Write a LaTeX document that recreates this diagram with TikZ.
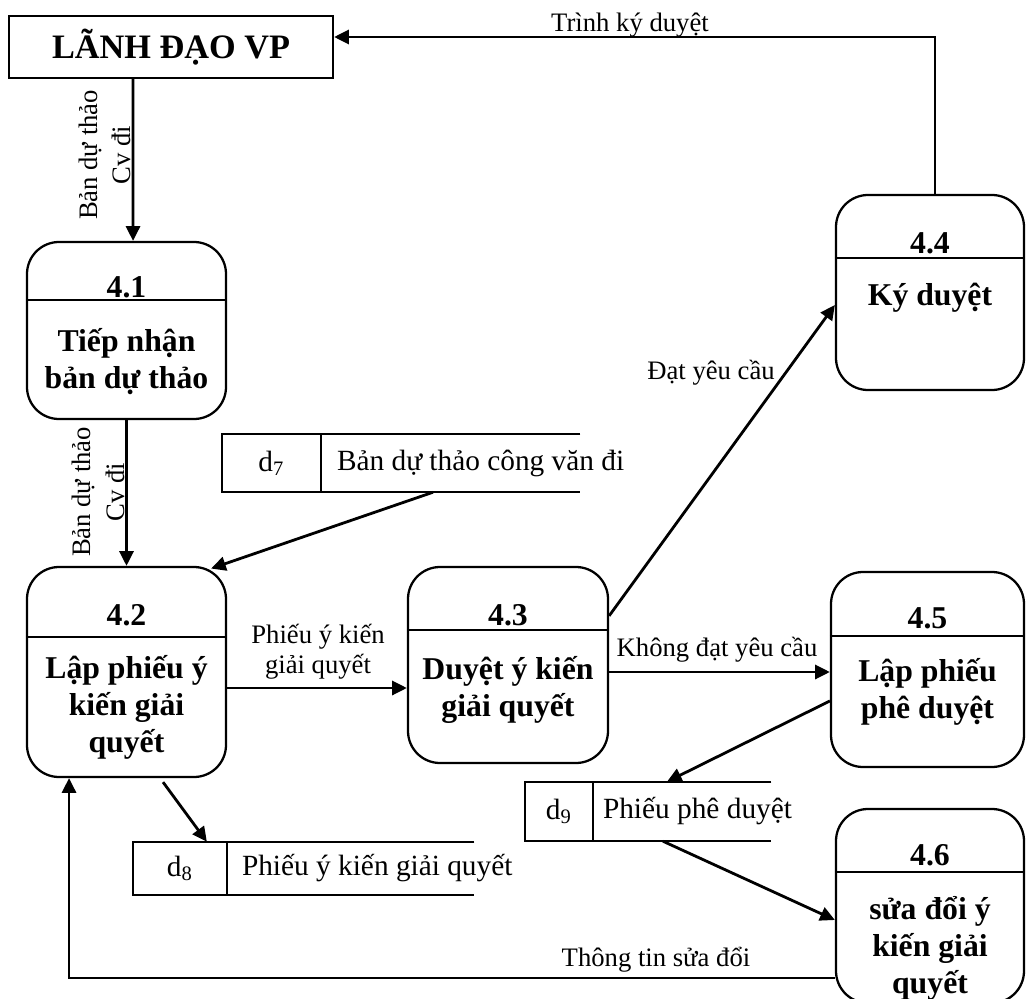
\documentclass[tikz,border=0pt]{standalone}
\usepackage{fontspec}
\setmainfont{Liberation Serif}
\usetikzlibrary{arrows.meta,calc}

\begin{document}
\begin{tikzpicture}[x=0.75pt,y=-0.75pt,
  proc/.style={draw, line width=1.7pt, rounded corners=24pt, inner sep=0pt},
  entity/.style={draw, line width=1.7pt, inner sep=0pt},
  storebox/.style={inner sep=0pt},
  storeline/.style={line width=1.7pt},
  divider/.style={line width=1.7pt},
  procnum/.style={font=\fontsize{23.8}{27.75}\selectfont\bfseries, inner sep=0pt},
  proctxt/.style={font=\fontsize{23.8}{27.75}\selectfont\bfseries, align=center, inner sep=0pt},
  storetxt/.style={font=\fontsize{22}{26}\selectfont, inner sep=0pt},
  flowlbl/.style={font=\fontsize{20}{22.5}\selectfont, align=center, inner sep=0pt},
  vlbl/.style={font=\fontsize{20}{25}\selectfont, align=center, inner sep=0pt, rotate=90},
  arr/.style={line width=2.1pt, -{Triangle[length=11pt,width=10.5pt]}},
]
\useasboundingbox (0,0) rectangle (1026,999);
\clip (0,0) rectangle (1026,999);

% external entity
\node[entity, minimum width=243pt, minimum height=46.5pt,
      font=\fontsize{25.7}{30}\selectfont\bfseries] (lead) at (171,47) {LÃNH ĐẠO VP};

% processes
\node[proc, minimum width=149.25pt, minimum height=132.75pt] (p41) at (126.5,330.5) {};
\node[proc, minimum width=149.25pt, minimum height=157.5pt]  (p42) at (126.5,672) {};
\node[proc, minimum width=150pt,    minimum height=147pt]    (p43) at (508,665) {};
\node[proc, minimum width=141pt,    minimum height=146.25pt] (p44) at (930,292.5) {};
\node[proc, minimum width=144.75pt, minimum height=146.25pt] (p45) at (927.5,669.5) {};
\node[proc, minimum width=141pt,    minimum height=145.5pt]  (p46) at (930,906) {};

% header dividers
\draw[divider] ([yshift=-44.25pt]p41.north west) -- ([yshift=-44.25pt]p41.north east);
\draw[divider] ([yshift=-53.25pt]p42.north west) -- ([yshift=-53.25pt]p42.north east);
\draw[divider] ([yshift=-48pt]p43.north west) -- ([yshift=-48pt]p43.north east);
\draw[divider] ([yshift=-48pt]p44.north west) -- ([yshift=-48pt]p44.north east);
\draw[divider] ([yshift=-48.75pt]p45.north west) -- ([yshift=-48.75pt]p45.north east);
\draw[divider] ([yshift=-48pt]p46.north west) -- ([yshift=-48pt]p46.north east);

% process numbers and names
\node[procnum] (n41) at (126.5,287) {4.1};
\node[proctxt] (t41) at (126.5,362) {Tiếp nhận\\bản dự thảo};
\node[procnum] (n42) at (126.5,615) {4.2};
\node[proctxt] (t42) at (126.5,707) {Lập phiếu ý\\kiến giải\\quyết};
\node[procnum] (n43) at (508,615) {4.3};
\node[proctxt] (t43) at (508,690) {Duyệt ý kiến\\giải quyết};
\node[procnum] (n44) at (930,243) {4.4};
\node[proctxt] (t44) at (930,298) {Ký duyệt};
\node[procnum] (n45) at (927.5,618) {4.5};
\node[proctxt] (t45) at (927.5,692) {Lập phiếu\\phê duyệt};
\node[procnum] (n46) at (930,855) {4.6};
\node[proctxt] (t46) at (930,948) {sửa đổi ý\\kiến giải\\quyết};

% data stores
\node[storebox, minimum width=268.5pt, minimum height=43.5pt]  (d7) at (401,463) {};
\node[storebox, minimum width=255.75pt, minimum height=39.75pt] (d8) at (303.5,868.5) {};
\node[storebox, minimum width=184.5pt, minimum height=44.25pt]  (d9) at (648,811.5) {};
\foreach \s/\dx in {d7/74.25pt, d8/70.5pt, d9/51pt}{
  \draw[storeline] (\s.north east) -- (\s.north west) -- (\s.south west) -- (\s.south east);
  \draw[storeline] ([xshift=\dx]\s.north west) -- ([xshift=\dx]\s.south west);
}
\node[storetxt] (d7id) at ([xshift=37.1pt]d7.west) {d\textsubscript{7}};
\node[storetxt, anchor=west] (d7txt) at ([xshift=86.25pt]d7.west) {Bản dự thảo công văn đi};
\node[storetxt] (d8id) at ([xshift=35.25pt]d8.west) {d\textsubscript{8}};
\node[storetxt, anchor=west] (d8txt) at ([xshift=81.75pt]d8.west) {Phiếu ý kiến giải quyết};
\node[storetxt] (d9id) at ([xshift=25.5pt]d9.west) {d\textsubscript{9}};
\node[storetxt, anchor=west] (d9txt) at ([xshift=58.5pt]d9.west) {Phiếu phê duyệt};

% data flows
\draw[arr] ([xshift=-28.5pt]lead.south) -- ([xshift=4.9pt]p41.north);
\node[vlbl] (l1) at (105,155) {Bản dự thảo\\Cv đi};

\draw[arr] (p41.south) -- (p42.north);
\node[vlbl] (l2) at (98.5,492) {Bản dự thảo\\Cv đi};

\draw[arr] ($(d7.south west)!0.589!(d7.south east)$) -- ([xshift=-12pt,yshift=-2pt]p42.north east);

\draw[arr] ([yshift=-12pt]p42.east) -- ([yshift=-12pt]p42.east -| p43.west);
\node[flowlbl] (l3) at (318,652) {Phiếu ý kiến\\giải quyết};

\draw[arr] ([yshift=-37.5pt]p43.north east) -- ([yshift=-9.4pt]p44.west);
\node[flowlbl] (l4) at (711,373) {Đạt yêu cầu};

\draw[arr] ([yshift=-5.25pt]p43.east) -- ([yshift=-5.25pt]p43.east -| p45.west);
\node[flowlbl] (l5) at (717,650) {Không đạt yêu cầu};

\draw[arr] ([xshift=3.75pt]p44.north) |- ([yshift=7.5pt]lead.east);
\node[flowlbl] (l6) at (630,25) {Trình ký duyệt};

\draw[arr] ([yshift=-23.6pt]p45.west) -- ($(d9.north west)!0.577!(d9.north east)$);
\draw[arr] ($(d9.south west)!0.561!(d9.south east)$) -- ([yshift=-10.5pt]p46.west);

\draw[arr] ([xshift=27.4pt,yshift=-3pt]p42.south) -- ($(d8.north west)!0.217!(d8.north east)$);

\draw[arr] ([yshift=-54pt]p46.west) -| ([xshift=-43.1pt]p42.south);
\node[flowlbl] (l7) at (656,960) {Thông tin sửa đổi};
\end{tikzpicture}
\end{document}
